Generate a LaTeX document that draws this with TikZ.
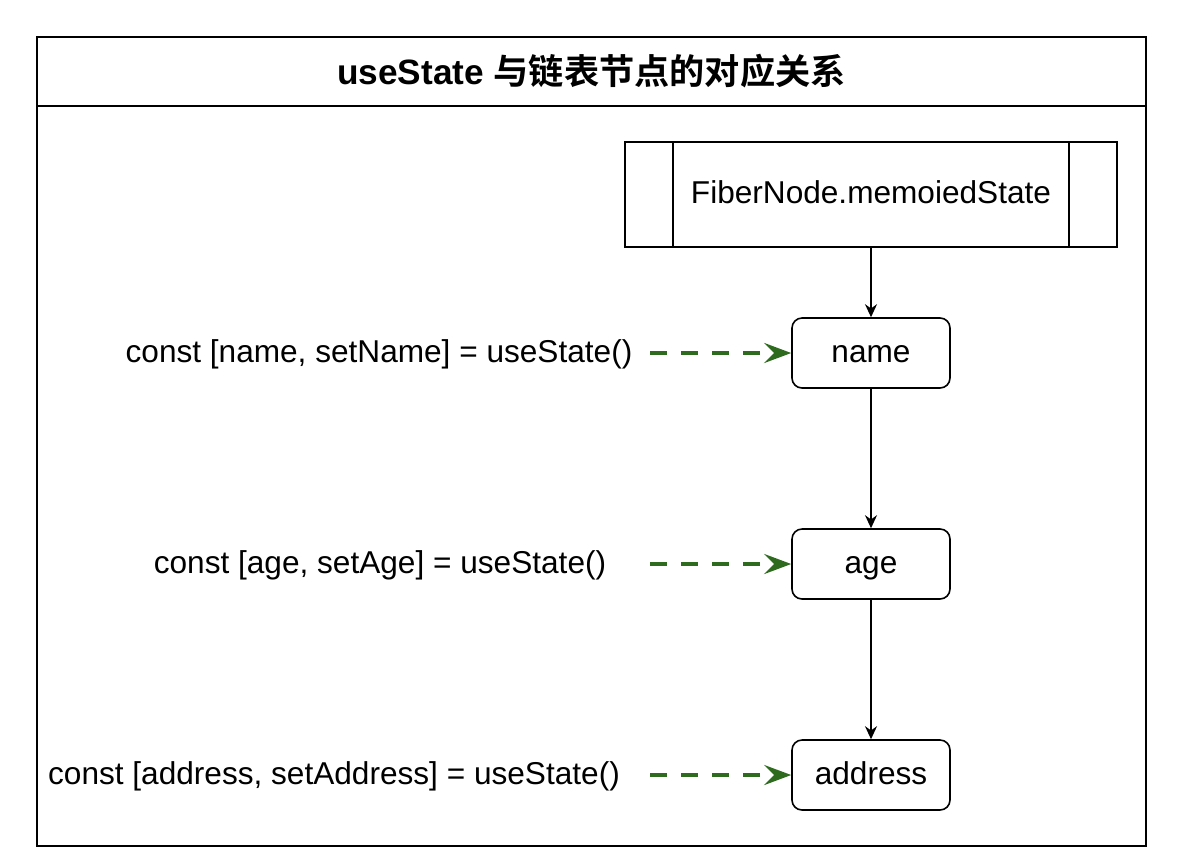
\documentclass[tikz,border=0pt]{standalone}
\usepackage{fontspec}
\setmainfont{Liberation Sans}
\newfontfamily\cjk{Noto Sans CJK SC}[BoldFont={Noto Sans CJK SC Bold}]
\usetikzlibrary{arrows.meta}
\definecolor{hookgreen}{HTML}{2E6B1F}

\begin{document}
\begin{tikzpicture}[x=0.5pt, y=-0.5pt,
    every node/.style={font=\fontsize{15.8}{19}\selectfont, text height=11.5pt, text depth=2.5pt},
    hook/.style={draw, rounded corners=5pt, minimum width=79pt, minimum height=35pt, line width=0.8pt},
    link/.style={-{Stealth[length=6.5pt,width=6pt]}, line width=0.8pt},
    call/.style={-{Stealth[length=13.5pt,width=10pt,inset=5pt]}, line width=2.3pt, hookgreen, dash pattern=on 8.5pt off 7pt}]
    \useasboundingbox (0,0) rectangle (1182,858);

    % frame and title
    \draw[line width=1pt] (37,37) rectangle (1146,846);
    \draw[line width=0.8pt] (37,106) -- (1146,106);
    \node[font=\fontsize{17.6}{21}\selectfont\bfseries] (title) at (591.5,75) {useState {\cjk 与链表节点的对应关系}};

    % linked list
    \node[draw, line width=0.8pt, minimum width=246pt, minimum height=52.5pt] (fiber) at (871,194.5) {FiberNode.memoiedState};
    \draw[line width=0.8pt] ([xshift=24.5pt]fiber.north west) -- ([xshift=24.5pt]fiber.south west);
    \draw[line width=0.8pt] ([xshift=-24.5pt]fiber.north east) -- ([xshift=-24.5pt]fiber.south east);

    \node[hook] (name) at (871,353) {name};
    \node[hook] (age) at (871,564) {age};
    \node[hook] (address) at (871,775) {address};

    \draw[link] (fiber) -- (name);
    \draw[link] (name) -- (age);
    \draw[link] (age) -- (address);

    % useState calls
    \node (lname) at (379,353) {const [name, setName] = useState()};
    \node (lage) at (380,564) {const [age, setAge] = useState()};
    \node (laddress) at (334,775) {const [address, setAddress] = useState()};

    \coordinate (cname) at (650,353);
    \coordinate (cage) at (650,564);
    \coordinate (caddress) at (650,775);

    \draw[call] (cname) -- (name);
    \draw[call] (cage) -- (age);
    \draw[call] (caddress) -- (address);
\end{tikzpicture}
\end{document}
